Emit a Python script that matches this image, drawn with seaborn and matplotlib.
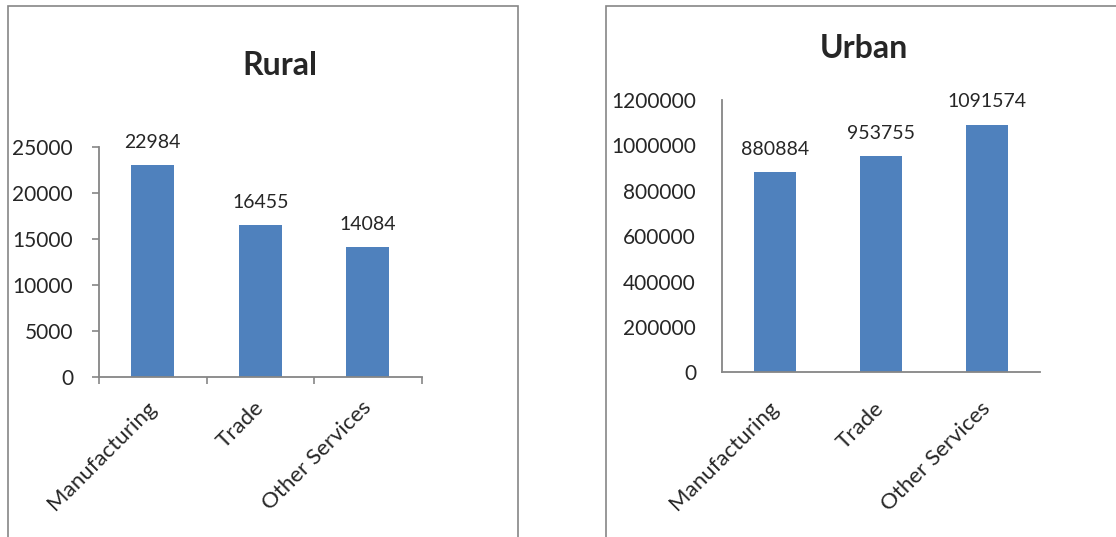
import matplotlib
matplotlib.use("Agg")
import matplotlib.pyplot as plt
from matplotlib.patches import Rectangle
from matplotlib.ticker import FixedLocator
from matplotlib.transforms import ScaledTranslation
import seaborn as sns
import pandas as pd

categories = ["Manufacturing", "Trade", "Other Services"]
rural_values = [22984, 16455, 14084]
urban_values = [880884, 953755, 1091574]
rural_ticks = [0, 5000, 10000, 15000, 20000, 25000]
urban_ticks = [0, 200000, 400000, 600000, 800000, 1000000, 1200000]

sns.set_style("white")
plt.rcParams["font.family"] = ["Lato", "DejaVu Sans"]

BAR = "#4F81BD"
GRAY = "#868686"
W, H = 1116, 537

fig = plt.figure(figsize=(W / 100, H / 100), dpi=100)

# chart-area borders
fig.add_artist(Rectangle((8 / W, -0.1), (518 - 8) / W, 1.1 - 6 / H,
                         transform=fig.transFigure, fill=False, edgecolor=GRAY, lw=1.2))
fig.add_artist(Rectangle((606 / W, -0.1), 0.6, 1.1 - 6 / H,
                         transform=fig.transFigure, fill=False, edgecolor=GRAY, lw=1.2))


def make_axes(px_left, px_right, px_top, px_bottom):
    return fig.add_axes([px_left / W, (H - px_bottom) / H,
                         (px_right - px_left) / W, (px_bottom - px_top) / H])


def draw(ax, values, ticks, with_ticks, ypad, xpad, title, title_xy):
    df = pd.DataFrame({"cat": categories, "val": values})
    sns.barplot(data=df, x="cat", y="val", color=BAR, width=0.4, ax=ax,
                saturation=1, edgecolor="none")
    ax.set_xlim(-0.5, 2.5)
    ax.set_ylim(ticks[0], ticks[-1])
    ax.set_yticks(ticks)
    ax.set_yticklabels([str(t) for t in ticks], fontsize=15)
    ax.set_xlabel("")
    ax.set_ylabel("")
    for s in ["top", "right"]:
        ax.spines[s].set_visible(False)
    for s in ["left", "bottom"]:
        ax.spines[s].set_color(GRAY)
        ax.spines[s].set_linewidth(1.3)
    if with_ticks:
        ax.tick_params(axis="y", which="major", direction="out", length=5,
                       width=1.2, color=GRAY, pad=ypad - 5, left=True)
        ax.xaxis.set_minor_locator(FixedLocator([-0.5, 0.5, 1.5, 2.5]))
        ax.tick_params(axis="x", which="minor", direction="out", length=5,
                       width=1.2, color=GRAY, bottom=True)
    else:
        ax.tick_params(axis="y", length=0, pad=ypad)
    ax.tick_params(axis="x", which="major", length=0, pad=xpad)
    ax.set_xticks(range(len(categories)))
    ax.set_xticklabels(categories, rotation=45, ha="right", va="top",
                       rotation_mode="anchor", fontsize=16)
    shift = ScaledTranslation(-7 / 100, 0, fig.dpi_scale_trans)
    for lab in ax.get_xticklabels():
        lab.set_transform(lab.get_transform() + shift)
    for i, v in enumerate(values):
        ax.annotate(str(v), (i, v), xytext=(0, 12.5), textcoords="offset points",
                    ha="center", va="baseline", fontsize=14)
    fig.text(title_xy[0] / W, (H - title_xy[1]) / H, title, ha="center",
             va="baseline", fontsize=23, fontweight="bold")


ax1 = make_axes(99, 421.7, 146.7, 376.7)
draw(ax1, rural_values, rural_ticks, True, 18.7, 15, "Rural", (280, 75))

ax2 = make_axes(722, 1040, 100, 372.3)
draw(ax2, urban_values, urban_ticks, False, 18.7, 18.5, "Urban", (864, 58))

fig.savefig("out.png", dpi=100)
